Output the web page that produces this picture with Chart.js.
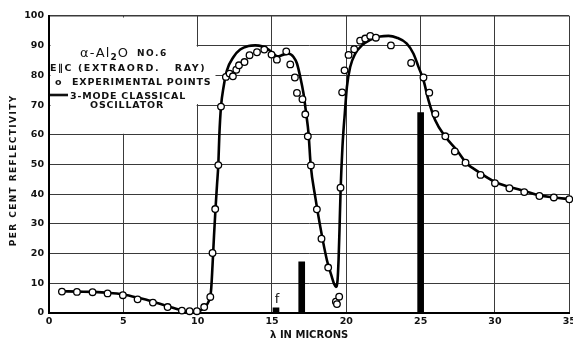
<!DOCTYPE html>
<html><head><meta charset="utf-8">
<script src="https://cdn.jsdelivr.net/npm/chart.js@4/dist/chart.umd.min.js"></script>
<style>html,body{margin:0;padding:0;background:#fff;}#wrap{width:573px;height:339px;position:relative;}</style>
</head><body><div id="wrap"><canvas id="c"></canvas></div>
<script>
// ---- data ----
const xTicks = [0, 5, 10, 15, 20, 25, 30, 35];
const yTicks = [0, 10, 20, 30, 40, 50, 60, 70, 80, 90, 100];

// experimental points (wavelength in microns, per cent reflectivity)
const expX = [0.87,1.88,2.93,3.94,4.97,5.96,6.99,7.98,8.94,9.46,9.95,10.44,10.85,11.0,11.18,11.39,11.57,11.9,12.15,12.37,12.6,12.78,13.15,13.49,13.99,14.48,14.97,15.33,15.96,16.23,16.54,16.68,17.05,17.24,17.41,17.62,18.02,18.33,18.78,19.3,19.37,19.52,19.61,19.72,19.88,20.15,20.53,20.93,21.27,21.61,21.99,23.0,24.36,25.19,25.58,25.99,26.66,27.3,28.02,29.03,30.0,30.97,31.97,32.99,33.96,35.0];
const expY = [7.2,7.1,7.0,6.6,6.0,4.6,3.5,2.0,0.8,0.6,0.6,2.0,5.4,20.2,35.0,49.8,69.5,79.5,80.6,79.7,81.9,83.4,84.5,86.8,87.8,88.7,87.0,85.3,88.1,83.7,79.3,74.1,72.0,66.9,59.5,49.7,34.9,25.0,15.3,3.8,3.0,5.5,42.2,74.3,81.7,86.9,88.8,91.7,92.4,93.3,92.7,90.1,84.2,79.3,74.2,67.0,59.5,54.4,50.6,46.5,43.7,42.0,40.7,39.4,38.9,38.3];

// 3-mode classical oscillator curve
const fitX = [0.87,2,3,4,5,6,7,8,9,9.5,10,10.4,10.7,10.9,11.0,11.1,11.2,11.3,11.39,11.46,11.57,11.74,11.97,12.41,12.86,13.42,13.87,14.32,14.77,15.1,15.37,15.78,16.14,16.45,16.68,16.9,17.12,17.3,17.46,17.6,17.91,18.25,18.7,19.03,19.18,19.3,19.41,19.48,19.54,19.62,19.74,19.81,19.88,20.04,20.26,20.6,21.05,21.61,22.28,22.84,23.4,24.07,24.52,24.86,25.19,25.53,25.98,26.65,27.44,28.11,28.56,30.01,31.0,31.98,33.0,34.0,35.0];
const fitY = [7.3,7.2,7.1,6.8,6.2,5.1,3.8,2.3,0.8,0.4,0.5,1.6,3.5,7.5,16,26,35,43,50,60,69.5,76,81.7,86.2,88.7,89.9,90.1,89.8,88.7,87.3,86.4,87.0,87.3,86.2,84.0,79.5,73.9,67.1,60.4,50,39.1,29,17.7,12.1,9.8,8.8,11,18,27.8,42,55.9,61.5,66,76.1,82.8,87.3,90.1,92.0,93.1,93.3,92.7,90.7,87.3,82.8,78.4,71.6,64.9,59.4,54.8,50.3,48.6,44.1,42.4,41.1,39.6,38.9,38.3];

// oscillator modes (position, strength bar)
const modeX = [15.27, 17.0, 25.0];
const modeY = [1.7, 17.2, 67.5];

const FONT = 'DejaVu Sans';
const INK = '#111';

const pts = (xs, ys) => xs.map((x, i) => ({x: x, y: ys[i]}));

const decor = {
  id: 'decor',
  beforeDatasetsDraw(chart) {
    const {ctx} = chart;
    const xs = chart.scales.x, ys = chart.scales.y;
    ctx.save();
    ctx.fillStyle = '#fff';
    // blank area behind the key (no grid there in the original)
    let x0 = xs.getPixelForValue(0) + 1.5, x1 = xs.getPixelForValue(10) - 1;
    let y0 = ys.getPixelForValue(100) + 1.5, y1 = ys.getPixelForValue(60) - 1;
    ctx.fillRect(x0, y0, x1 - x0, y1 - y0);
    x0 = xs.getPixelForValue(10) - 1.5; x1 = xs.getPixelForValue(11.2);
    y0 = ys.getPixelForValue(90) + 1; y1 = ys.getPixelForValue(70) - 1;
    ctx.fillRect(x0, y0, x1 - x0, y1 - y0);
    ctx.restore();
  },
  afterDatasetsDraw(chart) {
    const {ctx, chartArea} = chart;
    const L = chartArea.left, T = chartArea.top;
    const xs = chart.scales.x, ys = chart.scales.y;
    ctx.save();
    ctx.fillStyle = INK;
    ctx.strokeStyle = INK;
    ctx.textAlign = 'left';
    ctx.textBaseline = 'alphabetic';
    const put = (txt, x, y, font, ls, dy) => {
      ctx.font = font;
      ctx.letterSpacing = ls + 'px';
      ctx.fillText(txt, x, y + (dy || 0));
      return x + ctx.measureText(txt).width;
    };
    const f = (w, s) => w + ' ' + s + 'px "' + FONT + '"';
    // key title
    let x = L + 31, b = T + 41;
    x = put('\u03b1-Al', x, b, f('normal', 13), 1.2);
    x = put('2', x, b, f('bold', 9), 1, 2.5);
    x = put('O', x, b, f('normal', 13), 1.2);
    put('NO.6', L + 88, b - 1, f('bold', 9), 1.5);
    put('E\u2225C (EXTRAORD.   RAY)', L + 1, T + 55, f('bold', 9.5), 1.6);
    put('o', L + 6, T + 69, f('bold', 9.5), 0);
    put('EXPERIMENTAL POINTS', L + 23, T + 69, f('bold', 9.5), 0.8);
    ctx.lineWidth = 2.6;
    ctx.beginPath(); ctx.moveTo(L + 1, T + 79); ctx.lineTo(L + 19, T + 79); ctx.stroke();
    put('3-MODE CLASSICAL', L + 21, T + 82.5, f('bold', 9.5), 0.8);
    put('OSCILLATOR', L + 41, T + 92, f('bold', 9.5), 0.8);
    // label of the weak mode
    ctx.textAlign = 'center';
    put('f', xs.getPixelForValue(modeX[0]) + 1, ys.getPixelForValue(3.3), f('normal', 13), 0);
    ctx.restore();
  },
  afterDraw(chart) {
    const {ctx, chartArea} = chart;
    ctx.save();
    ctx.fillStyle = INK;
    ctx.translate(chartArea.left - 35.5, (chartArea.top + chartArea.bottom) / 2 + 6.5);
    ctx.rotate(-Math.PI / 2);
    ctx.font = 'bold 9px "' + FONT + '"';
    ctx.letterSpacing = '1.4px';
    ctx.textAlign = 'center';
    ctx.textBaseline = 'middle';
    ctx.fillText('PER CENT REFLECTIVITY', 0.7, 0);
    ctx.restore();
  }
};

new Chart(document.getElementById('c'), {
  type: 'scatter',
  data: {
    datasets: [
      {
        type: 'scatter', label: 'Experimental points', data: pts(expX, expY),
        pointStyle: 'circle', pointRadius: 3.3, pointBorderWidth: 1.3,
        borderColor: '#000', backgroundColor: '#fff', showLine: false, order: 0, clip: false
      },
      {
        type: 'line', label: '3-mode classical oscillator', data: pts(fitX, fitY),
        borderColor: '#000', borderWidth: 2.6, pointRadius: 0, fill: false,
        cubicInterpolationMode: 'monotone', order: 1, clip: false
      },
      {
        type: 'bar', label: 'Modes', data: pts(modeX, modeY),
        backgroundColor: '#000', borderWidth: 0, barThickness: 6, order: 2
      }
    ]
  },
  options: {
    responsive: true, maintainAspectRatio: false, animation: false, devicePixelRatio: 1,
    layout: {autoPadding: false, padding: {top: 16, right: 3.7, left: 0, bottom: 0}},
    plugins: {legend: {display: false}, tooltip: {enabled: false}},
    scales: {
      x: {
        type: 'linear', min: 0, max: 35, offset: false,
        afterBuildTicks: s => { s.ticks = xTicks.map(v => ({value: v})); },
        afterFit: s => { s.height = 26; s.paddingLeft = 0; s.paddingRight = 0; },
        grid: {color: '#3a3a3a', lineWidth: 1, drawTicks: false, offset: false},
        border: {color: '#000', width: 2},
        ticks: {color: INK, padding: 3, maxRotation: 0, font: {family: FONT, size: 9.5, weight: 'bold'}},
        title: {display: true, text: '\u03bb IN MICRONS', color: INK, padding: 0,
                font: {family: FONT, size: 10, weight: 'bold', lineHeight: 0.8}}
      },
      y: {
        type: 'linear', min: 0, max: 100,
        afterBuildTicks: s => { s.ticks = yTicks.map(v => ({value: v})); },
        afterFit: s => { s.width = 49; s.paddingTop = 0; s.paddingBottom = 0; },
        grid: {color: '#3a3a3a', drawTicks: false,
               lineWidth: c => (c.tick && c.tick.value === 100) ? 1.6 : 1},
        border: {color: '#000', width: 2},
        ticks: {color: INK, padding: 5, font: {family: FONT, size: 9.5, weight: 'bold'}}
      }
    }
  },
  plugins: [decor]
});
</script></body></html>
